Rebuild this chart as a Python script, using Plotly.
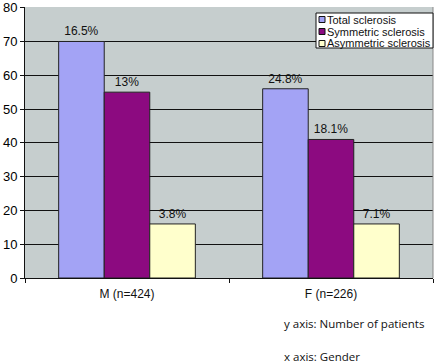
import plotly.graph_objects as go

categories = ["M (n=424)", "F (n=226)"]
series_names = ["Total sclerosis", "Symmetric sclerosis", "Asymmetric sclerosis"]
total_vals = [70, 56]
symmetric_vals = [55, 41]
asymmetric_vals = [16, 16]
total_labels = ["16.5%", "24.8%"]
symmetric_labels = ["13%", "18.1%"]
asymmetric_labels = ["3.8%", "7.1%"]
y_ticks = [0, 10, 20, 30, 40, 50, 60, 70, 80]

colors = ["#A3A3F5", "#8C0A80", "#FFFFCC"]
values = [total_vals, symmetric_vals, asymmetric_vals]
labels = [total_labels, symmetric_labels, asymmetric_labels]

W, H = 440, 364
ML, MR, MT, MB = 25, 7, 7, 86
PW, PH = W - ML - MR, H - MT - MB


def px(x):
    return (x - ML) / PW


def py(y):
    return (H - MB - y) / PH


fig = go.Figure()
for name, vals, txt, col in zip(series_names, values, labels, colors):
    fig.add_trace(go.Bar(
        name=name, x=categories, y=vals, text=txt,
        textposition="outside", cliponaxis=False,
        textfont=dict(family="Liberation Sans, Arial", size=12, color="#111"),
        marker=dict(color=col, line=dict(color="#222", width=1)),
    ))

shapes = [
    dict(type="line", xref="paper", yref="paper", x0=1, x1=1, y0=0, y1=1,
         line=dict(color="#888", width=1)),
    # legend box
    dict(type="rect", xref="paper", yref="paper", x0=px(316), x1=px(433),
         y0=py(48), y1=py(13), fillcolor="white", line=dict(color="#111", width=1), layer="above"),
]
annotations = [
    dict(text="y axis: Number of patients", xref="paper", yref="paper",
         x=px(282), y=py(323), xanchor="left", yanchor="middle", showarrow=False,
         font=dict(family="Open Sans, Liberation Sans", size=11.5, color="#111")),
    dict(text="x axis: Gender", xref="paper", yref="paper",
         x=px(282), y=py(356), xanchor="left", yanchor="middle", showarrow=False,
         font=dict(family="Open Sans, Liberation Sans", size=11.5, color="#111")),
]
for i, (name, col) in enumerate(zip(series_names, colors)):
    yc = 19.5 + 12 * i
    shapes.append(dict(type="rect", xref="paper", yref="paper",
                       x0=px(319), x1=px(325), y0=py(yc + 3), y1=py(yc - 3),
                       fillcolor=col, line=dict(color="#111", width=1), layer="above"))
    annotations.append(dict(text=name, xref="paper", yref="paper",
                            x=px(326), y=py(yc), xanchor="left", yanchor="middle",
                            showarrow=False, borderpad=0,
                            font=dict(family="Liberation Sans, Arial", size=11, color="#111")))

fig.update_layout(
    width=W, height=H,
    margin=dict(l=ML, r=MR, t=MT, b=MB, autoexpand=False),
    paper_bgcolor="white",
    plot_bgcolor="#C6CECE",
    barmode="group", bargap=0.33, bargroupgap=0,
    font=dict(family="Liberation Sans, Arial", color="#111"),
    showlegend=False,
    annotations=annotations,
    shapes=shapes,
)

fig.update_yaxes(
    range=[0, 80.2], tickvals=y_ticks, showgrid=True, gridcolor="#111", gridwidth=1,
    showline=True, linecolor="#111", linewidth=1, ticks="outside", ticklen=4,
    tickcolor="#111", tickfont=dict(size=13, family="Liberation Sans, Arial", color="#000"),
    zeroline=False, automargin=False,
)
fig.update_xaxes(
    showline=True, linecolor="#111", linewidth=1, ticks="outside", ticklen=4,
    tickson="boundaries", tickcolor="#111", automargin=False, ticklabelstandoff=5,
    tickfont=dict(size=12, family="Liberation Sans, Arial", color="#111"),
)

fig.write_html("out.html", config={"displayModeBar": False},
               post_script="document.body.style.margin='0';document.body.style.padding='0';")
